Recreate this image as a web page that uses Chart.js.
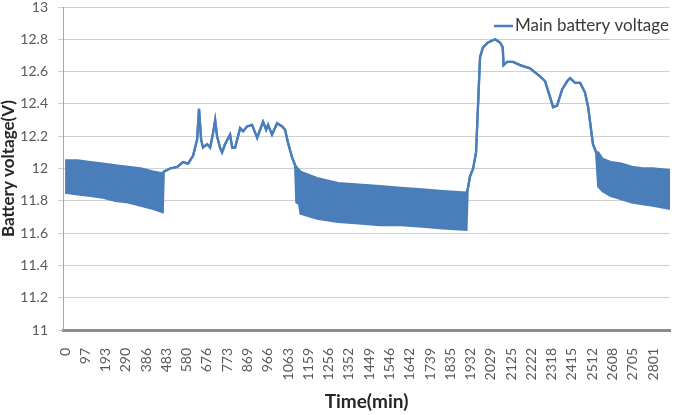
<!DOCTYPE html>
<html>
<head>
<meta charset="utf-8">
<script src="https://cdn.jsdelivr.net/npm/chart.js@4/dist/chart.umd.min.js"></script>
<style>
  html, body { margin: 0; padding: 0; background: #fff; }
  canvas { display: block; }
</style>
</head>
<body>
<canvas id="c" width="674" height="415"></canvas>
<script>
// ---- Data ----
const seriesLabel = 'Main battery voltage';
// time in minutes
const timeMin = [
  0, 60, 120, 180, 240, 300, 360, 420, 465,
  470, 500, 534, 562, 586, 610, 629, 638, 648, 657, 677, 691, 705, 715, 724, 738, 748, 762,
  786, 796, 810, 834, 848, 867, 891, 915, 929, 943, 958, 967, 986, 1010, 1034, 1048, 1062, 1081, 1096,
  1102, 1115, 1122, 1200, 1300, 1400, 1500, 1600, 1700, 1800, 1912,
  1918, 1929, 1944, 1958, 1968, 1977, 1991, 2015, 2049, 2072, 2085, 2089, 2106, 2134, 2168, 2215,
  2263, 2287, 2311, 2325, 2344, 2368, 2392, 2406, 2430, 2454, 2477, 2492, 2506, 2515, 2530,
  2540, 2560, 2600, 2650, 2700, 2750, 2800, 2882
];
// upper envelope of the oscillating voltage (equals the single trace where there is no oscillation)
const voltageHigh = [
  12.05, 12.05, 12.04, 12.03, 12.02, 12.01, 12.00, 11.98, 11.97,
  11.98, 12.00, 12.01, 12.04, 12.03, 12.08, 12.18, 12.37, 12.18, 12.13, 12.15, 12.13, 12.22, 12.30, 12.20, 12.13, 12.10, 12.15,
  12.21, 12.13, 12.13, 12.25, 12.23, 12.26, 12.27, 12.19, 12.24, 12.29, 12.24, 12.27, 12.21, 12.28, 12.26, 12.24, 12.16, 12.07, 12.02,
  12.01, 11.99, 11.98, 11.94, 11.91, 11.90, 11.89, 11.88, 11.87, 11.86, 11.85,
  11.87, 11.95, 12.00, 12.10, 12.41, 12.69, 12.75, 12.78, 12.80, 12.78, 12.75, 12.64, 12.66, 12.66, 12.64, 12.62,
  12.57, 12.54, 12.44, 12.38, 12.39, 12.49, 12.54, 12.56, 12.53, 12.53, 12.47, 12.38, 12.24, 12.15, 12.10,
  12.10, 12.06, 12.04, 12.03, 12.01, 12.00, 12.00, 11.99
];
// lower envelope of the oscillating voltage
const voltageLow = [
  11.85, 11.84, 11.83, 11.82, 11.80, 11.79, 11.77, 11.75, 11.73,
  11.98, 12.00, 12.01, 12.04, 12.03, 12.08, 12.18, 12.37, 12.18, 12.13, 12.15, 12.13, 12.22, 12.30, 12.20, 12.13, 12.10, 12.15,
  12.21, 12.13, 12.13, 12.25, 12.23, 12.26, 12.27, 12.19, 12.24, 12.29, 12.24, 12.27, 12.21, 12.28, 12.26, 12.24, 12.16, 12.07, 12.02,
  11.79, 11.78, 11.72, 11.69, 11.67, 11.66, 11.65, 11.65, 11.64, 11.63, 11.62,
  11.87, 11.95, 12.00, 12.10, 12.41, 12.69, 12.75, 12.78, 12.80, 12.78, 12.75, 12.64, 12.66, 12.66, 12.64, 12.62,
  12.57, 12.54, 12.44, 12.38, 12.39, 12.49, 12.54, 12.56, 12.53, 12.53, 12.47, 12.38, 12.24, 12.15, 12.10,
  11.89, 11.86, 11.83, 11.81, 11.79, 11.78, 11.77, 11.75
];
const xTickLabels = [0, 97, 193, 290, 386, 483, 580, 676, 773, 869, 966, 1063, 1159, 1256, 1352,
  1449, 1546, 1642, 1739, 1835, 1932, 2029, 2125, 2222, 2318, 2415, 2512, 2608, 2705, 2801];
const yTickLabels = ['11', '11.2', '11.4', '11.6', '11.8', '12', '12.2', '12.4', '12.6', '12.8', '13'];

// ---- Chart ----
const BLUE = '#4a7ebb';
const highPts = timeMin.map((t, i) => ({ x: t, y: voltageHigh[i] }));
const lowPts = timeMin.map((t, i) => ({ x: t, y: voltageLow[i] }));

const legendInArea = {
  id: 'legendInArea',
  afterDraw(chart) {
    const ctx = chart.ctx;
    const a = chart.chartArea;
    const label = chart.data.datasets[0].label;
    ctx.save();
    ctx.font = '17px Lato';
    const w = ctx.measureText(label).width;
    const right = a.right - 1;
    const y = a.top + 19;
    const textX = right - w;
    ctx.strokeStyle = BLUE;
    ctx.lineWidth = 2.5;
    ctx.beginPath();
    ctx.moveTo(textX - 21, y);
    ctx.lineTo(textX - 2, y);
    ctx.stroke();
    ctx.fillStyle = '#3a3a3a';
    ctx.textBaseline = 'middle';
    ctx.textAlign = 'left';
    ctx.fillText(label, textX, y);
    ctx.restore();
  }
};

new Chart(document.getElementById('c'), {
  type: 'line',
  data: {
    datasets: [
      { label: seriesLabel, data: highPts, borderColor: BLUE, backgroundColor: BLUE,
        borderWidth: 2.3, pointRadius: 0, tension: 0, fill: false },
      { label: seriesLabel + ' (low)', data: lowPts, borderColor: BLUE, backgroundColor: BLUE,
        borderWidth: 2.3, pointRadius: 0, tension: 0, fill: '-1' }
    ]
  },
  options: {
    responsive: false,
    animation: false,
    devicePixelRatio: 1,
    layout: { padding: { top: 7, right: 4, left: 0, bottom: 0 } },
    plugins: { legend: { display: false }, tooltip: { enabled: false } },
    scales: {
      x: {
        type: 'linear',
        min: -10, max: 2882,
        afterBuildTicks: s => { s.ticks = xTickLabels.map(v => ({ value: v })); },
        afterFit: s => { s.height = 85; s.paddingLeft = 0; s.paddingRight = 0; },
        grid: { display: false, drawTicks: false, tickLength: 0 },
        border: { display: true, color: '#8c8c8c', width: 3 },
        ticks: {
          autoSkip: false, minRotation: 90, maxRotation: 90, padding: 18,
          color: '#595959', font: { family: 'Lato', size: 14 },
          callback: v => String(v)
        },
        title: { display: true, text: 'Time(min)', color: '#262626',
          font: { family: 'Lato', size: 19, weight: 'bold', lineHeight: 1.2 },
          padding: { top: 0, bottom: 2 } }
      },
      y: {
        min: 11, max: 13,
        afterBuildTicks: s => { s.ticks = yTickLabels.map(v => ({ value: parseFloat(v) })); },
        afterFit: s => { s.width = 63; s.paddingTop = 0; s.paddingBottom = 0; },
        grid: { color: '#d0d0d0', lineWidth: 1, drawTicks: true, tickLength: 5 },
        border: { display: true, color: '#a6a6a6', width: 1 },
        ticks: {
          padding: 10, color: '#595959', font: { family: 'Lato', size: 14 },
          callback: (v, i) => yTickLabels[i]
        },
        title: { display: true, text: 'Battery voltage(V)', color: '#262626',
          font: { family: 'Lato', size: 17, weight: 'bold', lineHeight: 1 },
          padding: 0 }
      }
    }
  },
  plugins: [legendInArea]
});
</script>
</body>
</html>
